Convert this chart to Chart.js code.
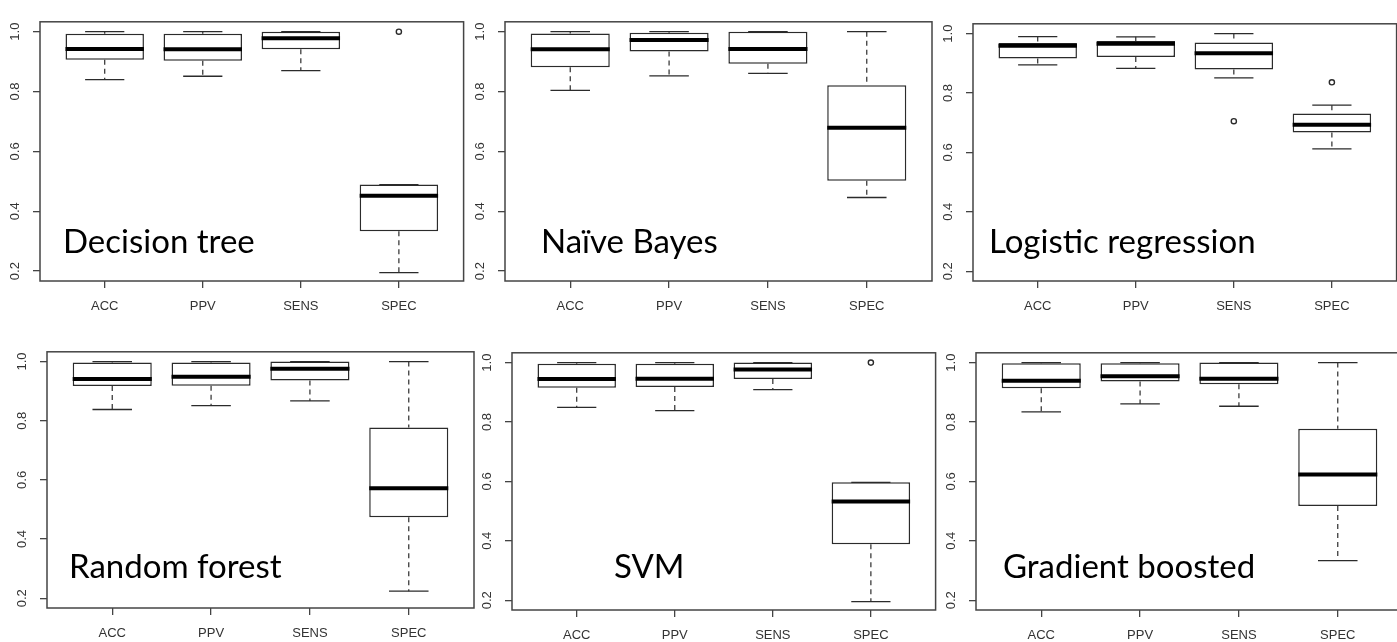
<!DOCTYPE html>
<html lang="en">
<head>
    <meta charset="UTF-8">
    <title>Classifier performance boxplots</title>
    <script src="https://cdn.jsdelivr.net/npm/chart.js"></script>
    <style>
        body {
            margin: 0;
            background: #fff;
            width: 1397px;
            height: 642px;
            overflow: hidden;
            position: relative;
        }
        canvas {
            position: absolute;
        }
    </style>
</head>
<body>
    <script>
        const categories = ['ACC', 'PPV', 'SENS', 'SPEC'];
        const yTicks = [0.2, 0.4, 0.6, 0.8, 1.0];

        // each row: [lower whisker, Q1, median, Q3, upper whisker] for ACC, PPV, SENS, SPEC
        const decisionTree = [
            [0.840, 0.906, 0.942, 0.993, 1.000],
            [0.851, 0.903, 0.941, 0.993, 1.000],
            [0.870, 0.941, 0.978, 1.000, 1.000],
            [0.195, 0.333, 0.452, 0.489, 0.489]
        ];
        const decisionTreeOutliers = [[], [], [], [1.0]];

        const naiveBayes = [
            [0.804, 0.881, 0.941, 0.994, 1.000],
            [0.852, 0.934, 0.972, 0.996, 1.000],
            [0.861, 0.893, 0.942, 1.000, 1.000],
            [0.446, 0.502, 0.679, 0.821, 1.000]
        ];
        const naiveBayesOutliers = [[], [], [], []];

        const logisticRegression = [
            [0.895, 0.916, 0.959, 0.968, 0.990],
            [0.883, 0.921, 0.966, 0.975, 0.989],
            [0.851, 0.879, 0.934, 0.970, 1.000],
            [0.612, 0.667, 0.693, 0.731, 0.759]
        ];
        const logisticRegressionOutliers = [[], [], [0.705], [0.836]];

        const randomForest = [
            [0.838, 0.917, 0.941, 0.997, 1.000],
            [0.851, 0.918, 0.949, 0.997, 1.000],
            [0.867, 0.936, 0.976, 1.000, 1.000],
            [0.224, 0.474, 0.572, 0.777, 1.000]
        ];
        const randomForestOutliers = [[], [], [], []];

        const svm = [
            [0.849, 0.915, 0.945, 0.996, 1.000],
            [0.838, 0.918, 0.946, 0.996, 1.000],
            [0.909, 0.945, 0.977, 1.000, 1.000],
            [0.195, 0.388, 0.532, 0.597, 0.597]
        ];
        const svmOutliers = [[], [], [], [1.0]];

        const gradientBoosted = [
            [0.834, 0.914, 0.939, 0.998, 1.000],
            [0.861, 0.936, 0.954, 0.998, 1.000],
            [0.853, 0.927, 0.946, 1.000, 1.000],
            [0.333, 0.517, 0.623, 0.777, 1.000]
        ];
        const gradientBoostedOutliers = [[], [], [], []];

        // plot-box placement on the page (left, top, height) and label anchor
        const panels = [
            { name: 'Decision tree', stats: decisionTree, outliers: decisionTreeOutliers, left: 40, top: 7, height: 274, labelX: 63, labelY: 253 },
            { name: 'Naïve Bayes', stats: naiveBayes, outliers: naiveBayesOutliers, left: 505, top: 7, height: 274, labelX: 541, labelY: 253 },
            { name: 'Logistic regression', stats: logisticRegression, outliers: logisticRegressionOutliers, left: 973, top: 9, height: 272, labelX: 989, labelY: 253 },
            { name: 'Random forest', stats: randomForest, outliers: randomForestOutliers, left: 47, top: 337, height: 271, labelX: 69, labelY: 578 },
            { name: 'SVM', stats: svm, outliers: svmOutliers, left: 512, top: 338, height: 272, labelX: 614, labelY: 578 },
            { name: 'Gradient boosted', stats: gradientBoosted, outliers: gradientBoostedOutliers, left: 976, top: 338, height: 272, labelX: 1003, labelY: 578 }
        ];

        const PLOT_W = 425;
        const AXIS_W = 40;
        const AXIS_H = 40;
        const PAD = 2;
        const INK = '#2b2b2b';

        // frame around the plot region plus the model name inside it
        const framePlugin = {
            id: 'frame',
            afterDraw(chart, args, opts) {
                const { ctx, chartArea: a } = chart;
                ctx.save();
                ctx.strokeStyle = '#444';
                ctx.lineWidth = 1.5;
                ctx.strokeRect(a.left, a.top, a.right - a.left, a.bottom - a.top);
                ctx.fillStyle = '#000';
                ctx.font = '33px Lato, "Open Sans", sans-serif';
                ctx.textBaseline = 'alphabetic';
                ctx.fillText(opts.text, opts.x, opts.y);
                ctx.restore();
            }
        };

        function segments(list) {
            // join [[x1,y1,x2,y2], ...] into one line dataset with gaps
            const pts = [];
            list.forEach(s => {
                pts.push({ x: s[0], y: s[1] }, { x: s[2], y: s[3] }, { x: s[2], y: null });
            });
            return pts;
        }

        function makePanel(p) {
            const canvas = document.createElement('canvas');
            const cw = AXIS_W + PLOT_W + PAD * 2;
            const ch = PAD + p.height + AXIS_H;
            const cl = p.left - AXIS_W;
            const ct = p.top - PAD;
            canvas.width = cw;
            canvas.height = ch;
            canvas.style.left = cl + 'px';
            canvas.style.top = ct + 'px';
            document.body.appendChild(canvas);

            const boxes = p.stats.map((s, i) => ({ x: i + 1, y: [s[1], s[3]] }));
            const whiskers = segments(p.stats.flatMap((s, i) => [
                [i + 1, s[4], i + 1, s[3]],
                [i + 1, s[1], i + 1, s[0]]
            ]));
            const caps = segments(p.stats.flatMap((s, i) => [
                [i + 0.8, s[4], i + 1.2, s[4]],
                [i + 0.8, s[0], i + 1.2, s[0]]
            ]));
            const medians = segments(p.stats.map((s, i) => [i + 0.6, s[2], i + 1.4, s[2]]));
            const outliers = p.outliers.flatMap((o, i) => o.map(v => ({ x: i + 1, y: v })));

            new Chart(canvas.getContext('2d'), {
                type: 'bar',
                data: {
                    datasets: [
                        {
                            type: 'line', data: whiskers, order: 4,
                            borderColor: INK, borderWidth: 1.2, borderDash: [5, 4],
                            pointRadius: 0, spanGaps: false
                        },
                        {
                            data: boxes, order: 3,
                            backgroundColor: '#fff', borderColor: INK, borderWidth: 1.5,
                            borderSkipped: false, barPercentage: 0.8, categoryPercentage: 1.0
                        },
                        {
                            type: 'line', data: caps, order: 2,
                            borderColor: INK, borderWidth: 1.3,
                            pointRadius: 0, spanGaps: false
                        },
                        {
                            type: 'line', data: medians, order: 1,
                            borderColor: '#000', borderWidth: 4, borderCapStyle: 'butt',
                            pointRadius: 0, spanGaps: false
                        },
                        {
                            type: 'line', data: outliers, order: 0, showLine: false,
                            pointRadius: 2.6, pointBorderWidth: 1.4,
                            pointBorderColor: INK, pointBackgroundColor: 'rgba(0,0,0,0)'
                        }
                    ]
                },
                options: {
                    responsive: false,
                    animation: false,
                    devicePixelRatio: 1,
                    layout: { padding: { top: PAD, right: PAD, left: 0, bottom: 0 } },
                    plugins: {
                        legend: { display: false },
                        tooltip: { enabled: false },
                        frame: { text: p.name, x: p.labelX - cl, y: p.labelY - ct }
                    },
                    scales: {
                        x: {
                            type: 'linear',
                            min: 0.34, max: 4.66,
                            offset: false,
                            afterBuildTicks: s => { s.ticks = categories.map((c, i) => ({ value: i + 1 })); },
                            afterFit: s => { s.height = AXIS_H; },
                            ticks: {
                                callback: v => categories[v - 1],
                                font: { family: 'Liberation Sans, Arial, sans-serif', size: 13 },
                                color: '#333', padding: 11, maxRotation: 0, autoSkip: false
                            },
                            grid: { offset: false, drawOnChartArea: false, drawTicks: true, tickLength: 7, color: '#444', lineWidth: 1.3 },
                            border: { display: false }
                        },
                        y: {
                            min: 0.167, max: 1.033,
                            afterBuildTicks: s => { s.ticks = yTicks.map(v => ({ value: v })); },
                            afterFit: s => { s.width = AXIS_W; },
                            ticks: {
                                callback: v => v.toFixed(1),
                                font: { family: 'Liberation Sans, Arial, sans-serif', size: 13 },
                                color: '#333', padding: 9, minRotation: 90, maxRotation: 90,
                                crossAlign: 'center', autoSkip: false
                            },
                            grid: { drawOnChartArea: false, drawTicks: true, tickLength: 7, color: '#444', lineWidth: 1.3 },
                            border: { display: false }
                        }
                    }
                },
                plugins: [framePlugin]
            });
        }

        panels.forEach(makePanel);
    </script>
</body>
</html>
